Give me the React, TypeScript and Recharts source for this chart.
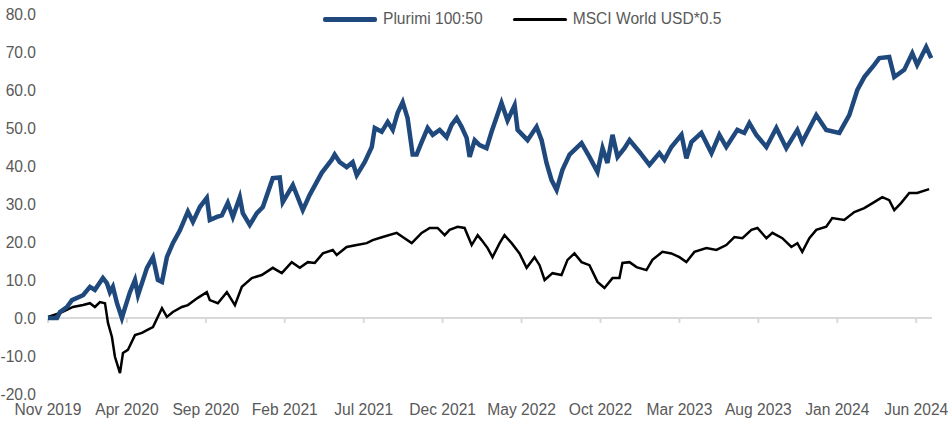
import { Line, LineChart, ReferenceLine, XAxis, YAxis } from 'recharts';

// months since Nov 2019 for the axis labels
const tickMonths = [0, 5, 10, 15, 20, 25, 30, 35, 40, 45, 50, 55];
const tickLabels = [
  'Nov 2019', 'Apr 2020', 'Sep 2020', 'Feb 2021', 'Jul 2021', 'Dec 2021',
  'May 2022', 'Oct 2022', 'Mar 2023', 'Aug 2023', 'Jan 2024', 'Jun 2024',
];
const yTicks = [-20, -10, 0, 10, 20, 30, 40, 50, 60, 70, 80];

const plurimiMonths = [
  0, 0.57, 0.76, 1.2, 1.52, 2.22, 2.66, 2.97, 3.48, 3.73, 3.92, 4.11, 4.37, 4.68, 4.87,
  5.19, 5.51, 5.7, 6.27, 6.65, 6.96, 7.22, 7.53, 7.91, 8.35, 8.86, 9.18, 9.62, 10.06,
  10.25, 10.7, 11.01, 11.39, 11.71, 12.15, 12.34, 12.78, 13.23, 13.61, 14.24, 14.68,
  14.87, 15.51, 16.14, 16.58, 17.34, 17.97, 18.16, 18.48, 18.92, 19.3, 19.56, 20.06,
  20.51, 20.7, 21.14, 21.52, 21.84, 22.15, 22.47, 22.78, 23.1, 23.35, 23.67, 24.05,
  24.37, 24.81, 25.25, 25.57, 25.89, 26.2, 26.52, 26.71, 27.03, 27.34, 27.78, 28.1,
  28.73, 29.11, 29.56, 29.75, 30.38, 30.95, 31.27, 31.58, 31.9, 32.22, 32.59, 33.04,
  33.8, 34.3, 34.81, 35.13, 35.44, 35.76, 36.08, 36.52, 36.84, 37.47, 38.1, 38.73,
  39.05, 39.49, 40.13, 40.44, 40.76, 41.39, 42.03, 42.53, 42.97, 43.67, 44.11, 44.43,
  44.87, 45.51, 46.14, 46.77, 47.47, 47.78, 48.67, 49.3, 50.13, 50.76, 51.27, 51.71,
  52.34, 52.66, 53.29, 53.61, 54.24, 54.75, 55.06, 55.63, 55.95,
];
const plurimiValues = [
  0, 0, 1.6, 2.9, 4.7, 6, 8.2, 7.4, 10.5, 9.2, 6.8, 8.2, 3.9, 0, 2.6,
  6.8, 10, 6, 13.2, 16, 10, 9.5, 16, 19.7, 23, 28, 25.3, 29.2, 31.6,
  25.8, 26.6, 27, 30.3, 26.6, 31.8, 27.6, 24.5, 27.6, 29.2, 36.8, 37,
  30.5, 35, 28.4, 32.4, 38.2, 41.6, 43, 41, 39.7, 41, 37.6, 41,
  45, 50, 49, 51.6, 49.5, 54, 56.8, 52.6, 43, 43, 46.3, 50,
  48.2, 49.5, 47.6, 50.8, 52.6, 50.3, 47.4, 42.4, 46.8, 45.5, 44.7, 49,
  56.6, 52, 56, 49.5, 46.8, 50.3, 46.8, 40.8, 36.3, 33.7, 39, 43,
  46, 42.4, 38.4, 44.7, 40.8, 48.2, 42.4, 44.7, 46.8, 43.7, 40.3, 43.4,
  41.6, 45, 48.2, 42, 46.3, 48.7, 43.4, 48.2, 45, 49.5, 48.7, 51.3,
  48.2, 45, 50, 44.7, 49.5, 46.3, 53.4, 49.5, 48.7, 53.4, 60, 63.4,
  66.6, 68.4, 68.7, 63.4, 65.3, 69.7, 66.6, 71.3, 68.4,
];

const msciMonths = [
  0, 0.76, 1.58, 2.22, 2.66, 2.97, 3.29, 3.61, 3.8, 4.05, 4.24, 4.56, 4.75, 5.06, 5.51,
  5.95, 6.27, 6.65, 7.22, 7.53, 7.91, 8.48, 8.86, 9.49, 10.06, 10.25, 10.76, 11.33,
  11.84, 12.28, 12.91, 13.54, 14.24, 14.81, 15.44, 15.95, 16.46, 16.9, 17.41, 18.04,
  18.29, 18.92, 19.56, 20.19, 20.57, 21.2, 22.09, 22.47, 23.04, 23.67, 24.18, 24.68,
  25.13, 25.44, 25.95, 26.39, 26.84, 27.22, 27.47, 27.85, 28.16, 28.61, 28.92, 29.37,
  29.87, 30.32, 30.82, 31.14, 31.46, 31.96, 32.53, 32.91, 33.35, 33.8, 34.3, 34.81,
  35.25, 35.76, 36.2, 36.39, 36.84, 37.28, 37.91, 38.29, 38.92, 39.49, 40, 40.44,
  40.95, 41.71, 42.34, 42.97, 43.48, 43.99, 44.56, 44.94, 45.51, 45.89, 46.52, 47.09,
  47.47, 47.78, 48.23, 48.67, 49.3, 49.68, 50.44, 51.08, 51.71, 52.34, 52.85, 53.29,
  53.61, 54.05, 54.56, 55.06, 55.82,
];
const msciValues = [
  0.3, 1.3, 2.9, 3.4, 3.9, 2.9, 4.2, 3.9, -1.3, -5, -10.2, -14.5, -9.2, -8.4, -4.5,
  -3.9, -3.2, -2.4, 2.6, 0.3, 1.6, 2.9, 3.4, 5.3, 6.8, 4.7, 3.9, 6.8,
  3.4, 8.2, 10.5, 11.3, 13.2, 11.8, 14.7, 13.2, 14.7, 14.5, 17, 17.9,
  16.6, 18.7, 19.2, 19.7, 20.5, 21.3, 22.4, 21.3, 19.7, 22.4, 23.7, 23.7,
  21.8, 23.2, 24, 23.7, 19.2, 21.8, 20.5, 18.4, 16, 19.7, 21.8, 19.7,
  17, 13.2, 16, 13.9, 10, 11.8, 11.3, 15.3, 17, 14.7, 13.9, 9.5,
  7.9, 10.5, 10.5, 14.5, 14.7, 13.4, 12.6, 15.3, 17.4, 17, 16, 14.7,
  17.4, 18.4, 17.9, 19.2, 21.3, 21, 23.2, 23.7, 21, 22.4, 21, 18.7,
  19.7, 17.4, 21, 23.2, 24, 26.3, 25.8, 27.9, 28.9, 30.5, 31.8, 31,
  28.4, 30.3, 32.9, 32.9, 33.9,
];

const plurimiData = plurimiMonths.map((m, i) => ({ m, v: plurimiValues[i] }));
const msciData = msciMonths.map((m, i) => ({ m, v: msciValues[i] }));

const BLUE = '#1F497D';
const TEXT = '#595959';
const AXIS = '#D9D9D9';
const FONT = '"Liberation Sans", Arial, sans-serif';

// legend sits over the top of the plot, like the original
function ChartLegend() {
  const item = (color: string, h: number, label: string) => (
    <div style={{ display: 'flex', alignItems: 'center', marginRight: 30 }}>
      <div style={{ width: 54, height: h, background: color, borderRadius: 2, marginRight: 6 }} />
      <span>{label}</span>
    </div>
  );
  return (
    <div
      style={{
        position: 'absolute', left: 323, top: 9, display: 'flex',
        fontFamily: FONT, fontSize: 15.6, color: TEXT, lineHeight: '20px',
      }}
    >
      {item(BLUE, 5, 'Plurimi 100:50')}
      {item('#000000', 3, 'MSCI World USD*0.5')}
    </div>
  );
}

export default function App() {
  return (
    <div style={{ position: 'absolute', left: 0, top: 0, width: 948, height: 423, background: '#fff' }}>
      <LineChart width={948} height={423} margin={{ top: 14, right: 16, bottom: 0, left: 0 }}>
        <XAxis
          dataKey='m'
          type='number'
          domain={[0, 56]}
          ticks={tickMonths}
          interval={0}
          tickFormatter={(v: number) => tickLabels[tickMonths.indexOf(v)] ?? ''}
          axisLine={false}
          tickLine={false}
          tickSize={0}
          tickMargin={10}
          height={29}
          tick={{ fill: TEXT, fontSize: 15.6, fontFamily: FONT }}
          allowDuplicatedCategory={false}
        />
        <YAxis
          type='number'
          domain={[-20, 80]}
          ticks={yTicks}
          interval={0}
          tickFormatter={(v: number) => v.toFixed(1)}
          axisLine={false}
          tickLine={false}
          tickSize={0}
          tickMargin={12}
          width={48}
          tick={{ fill: TEXT, fontSize: 15.6, fontFamily: FONT }}
        />
        <ReferenceLine y={0} stroke={AXIS} strokeWidth={2} />
        {tickMonths.map((m) => (
          <ReferenceLine
            key={m}
            segment={[{ x: m, y: 0 }, { x: m, y: -1.3 }]}
            stroke={AXIS}
            strokeWidth={2}
          />
        ))}
        <Line
          data={msciData}
          dataKey='v'
          type='linear'
          stroke='#000000'
          strokeWidth={2.5}
          dot={false}
          isAnimationActive={false}
        />
        <Line
          data={plurimiData}
          dataKey='v'
          type='linear'
          stroke={BLUE}
          strokeWidth={4.5}
          dot={false}
          isAnimationActive={false}
        />
      </LineChart>
      <ChartLegend />
    </div>
  );
}
